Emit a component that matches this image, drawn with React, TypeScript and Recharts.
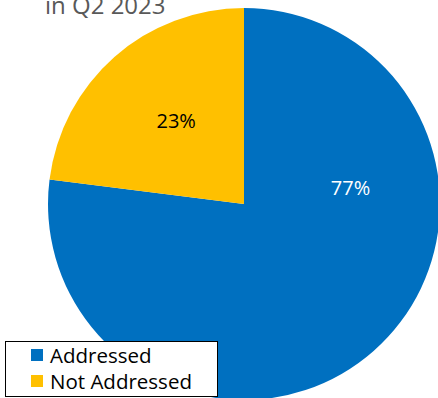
import React from 'react';
import { PieChart, Pie, Cell, Legend } from 'recharts';

const names = ['Addressed', 'Not Addressed'];
const values = [77, 23];
const COLORS = ['#0070C0', '#FFC000'];
const labelColors = ['#FFFFFF', '#000000'];

const data = names.map((name, i) => ({ name, value: values[i] }));

const FONT = '"Open Sans", "Noto Sans", sans-serif';

// Excel-style label spots: angle (deg) and distance as fraction of radius
const labelSpots = [
  { angle: 9, dist: 0.55 },
  { angle: 129, dist: 0.55 },
];

const renderLabel = (props: any) => {
  const { cx, cy, outerRadius, index, percent } = props;
  const spot = labelSpots[index];
  const r = outerRadius * spot.dist;
  const x = cx + r * Math.cos((spot.angle * Math.PI) / 180);
  const y = cy - r * Math.sin((spot.angle * Math.PI) / 180);
  return (
    <text
      x={x}
      y={y}
      fill={labelColors[index]}
      textAnchor="middle"
      dominantBaseline="central"
      fontFamily={FONT}
      fontSize={20}
    >
      {`${Math.round(percent * 100)}%`}
    </text>
  );
};

const LegendBox = () => (
  <div
    style={{
      border: '1px solid #000',
      background: '#fff',
      width: 213,
      height: 56,
      boxSizing: 'border-box',
      padding: '0 0 0 25px',
      fontFamily: FONT,
      fontSize: 20.5,
      color: '#000',
      lineHeight: '26px',
    }}
  >
    {names.map((n, i) => (
      <div key={n} style={{ display: 'flex', alignItems: 'center' }}>
        <span style={{ width: 12, height: 12, background: COLORS[i], marginRight: 7, display: 'inline-block' }} />
        {n}
      </div>
    ))}
  </div>
);

export default function App() {
  return (
    <div style={{ position: 'absolute', left: 0, top: 0, width: 438, height: 398, overflow: 'hidden', background: '#fff' }}>
      <PieChart width={438} height={398} margin={{ top: 0, right: 0, bottom: 0, left: 0 }}>
        <Pie
          data={data}
          dataKey="value"
          cx={244}
          cy={204}
          outerRadius={196}
          startAngle={90}
          endAngle={-270}
          stroke="none"
          labelLine={false}
          label={renderLabel}
          isAnimationActive={false}
        >
          {data.map((d, i) => (
            <Cell key={d.name} fill={COLORS[i]} />
          ))}
        </Pie>
        <Legend
          content={() => <LegendBox />}
          wrapperStyle={{ position: 'absolute', left: 5, top: 341, width: 213 }}
        />
      </PieChart>
      <div
        style={{
          position: 'absolute',
          left: 45,
          top: -12,
          fontFamily: FONT,
          fontSize: 24,
          color: '#595959',
          whiteSpace: 'nowrap',
        }}
      >
        in Q2 2023
      </div>
    </div>
  );
}
